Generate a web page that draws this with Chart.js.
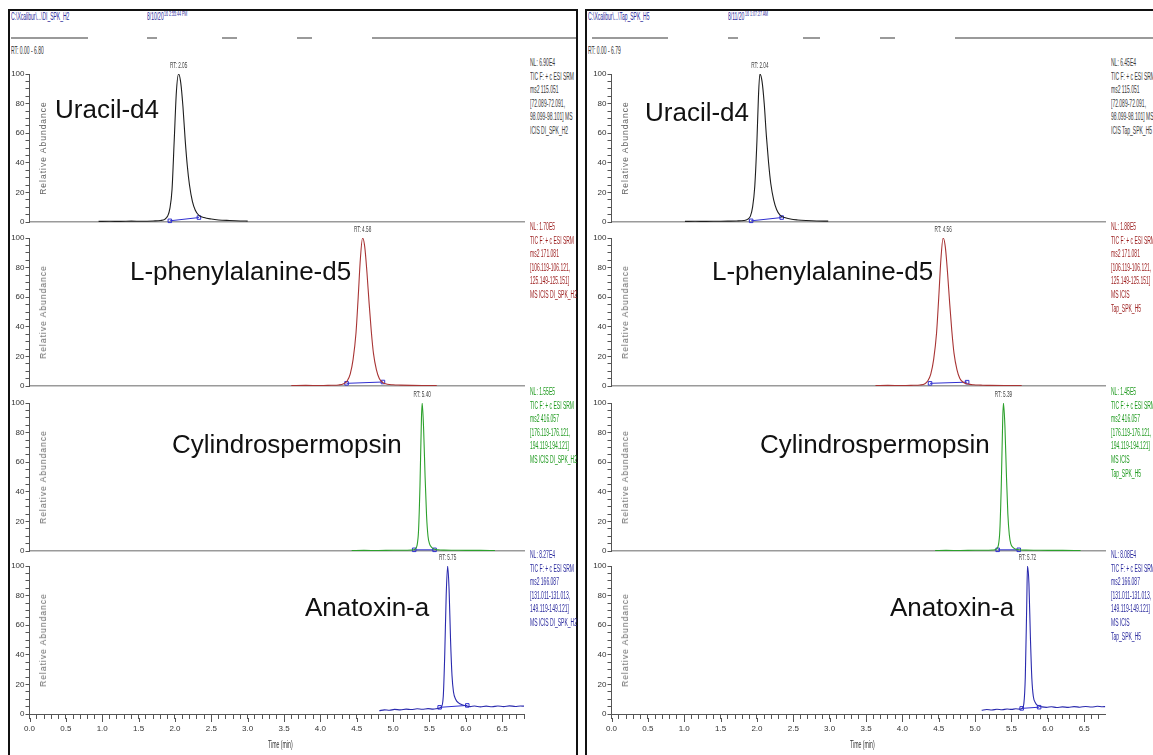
<!DOCTYPE html>
<html>
<head>
<meta charset="utf-8">
<script src="https://cdn.jsdelivr.net/npm/chart.js@4.4.0/dist/chart.umd.min.js"></script>
<style>
body{margin:0;width:1153px;height:755px;overflow:hidden;background:#fff;position:relative;font-family:'Liberation Sans',Arial,sans-serif;}
.t{position:absolute;white-space:nowrap;transform-origin:left top;line-height:1;}
.box{position:absolute;border:2.5px solid #111;box-sizing:border-box;}
.hl{position:absolute;height:1.5px;background:#9a9a9a;}
.cw{position:absolute;}
</style>
</head>
<body>
<script>
// time (min) and relative abundance (%)
// left panel (DI_SPK_H2)
var uracilL_t = [0.95,1.1,1.25,1.4,1.55,1.7,1.8,1.86,1.9,1.93,1.96,1.99,2.02,2.05,2.08,2.11,2.14,2.17,2.2,2.24,2.28,2.33,2.4,2.5,2.6,2.75,2.9,3.0];
var uracilL_y = [0.4,0.5,0.4,0.6,0.5,0.7,1.0,1.8,4,9,22,55,88,100,94,78,56,38,25,14,8,4.5,3,2,1.4,1,0.7,0.6];
var pheL_t = [3.6,3.8,4.0,4.15,4.25,4.32,4.37,4.41,4.45,4.49,4.52,4.55,4.58,4.61,4.64,4.67,4.7,4.73,4.77,4.81,4.86,4.92,5.0,5.1,5.25,5.4,5.6];
var pheL_y = [0.3,0.4,0.3,0.5,0.7,1.5,3.5,8,18,36,60,86,100,94,77,56,37,22,11,5,2.2,1.2,0.8,0.6,0.4,0.3,0.3];
var cylL_t = [4.43,4.6,4.8,5.0,5.15,5.25,5.3,5.33,5.35,5.37,5.39,5.4,5.42,5.44,5.46,5.48,5.5,5.53,5.57,5.62,5.7,5.85,6.0,6.2,6.4];
var cylL_y = [0.3,0.4,0.3,0.5,0.5,0.7,1.2,4,14,45,90,100,82,50,24,10,5,2.5,1.2,0.8,0.6,0.5,0.4,0.4,0.3];
var anaL_t = [4.81,4.88,4.95,5.02,5.1,5.18,5.25,5.33,5.4,5.48,5.55,5.62,5.66,5.69,5.71,5.73,5.75,5.77,5.79,5.81,5.83,5.86,5.9,5.95,6.0,6.06,6.12,6.2,6.28,6.36,6.44,6.52,6.6,6.68,6.75,6.8];
var anaL_y = [2.2,2.8,2.5,3.1,2.8,3.3,3.0,3.5,3.2,3.6,3.3,3.8,4.5,12,40,80,100,84,50,26,15,10,7.5,6.2,5.5,5.0,5.4,4.8,5.3,4.9,5.4,5.0,5.5,5.1,5.4,5.3];
// right panel (Tap_SPK_H5)
var uracilR_t = [1.01,1.15,1.3,1.45,1.6,1.72,1.82,1.87,1.91,1.94,1.97,2.0,2.02,2.04,2.07,2.1,2.13,2.16,2.19,2.23,2.27,2.32,2.38,2.46,2.56,2.68,2.82,2.98];
var uracilR_y = [0.4,0.5,0.4,0.5,0.6,0.7,1.0,1.8,4,10,24,55,84,100,95,80,58,40,26,15,8.5,4.5,3,2,1.4,1,0.7,0.6];
var pheR_t = [3.63,3.8,4.0,4.15,4.24,4.31,4.35,4.39,4.43,4.47,4.5,4.53,4.56,4.59,4.62,4.65,4.68,4.71,4.75,4.79,4.84,4.9,4.98,5.08,5.2,5.4,5.64];
var pheR_y = [0.3,0.4,0.3,0.5,0.7,1.5,3.5,8,18,36,60,86,100,94,77,56,37,22,11,5,2.4,1.3,0.8,0.6,0.4,0.3,0.3];
var cylR_t = [4.45,4.6,4.8,5.0,5.14,5.24,5.29,5.32,5.34,5.36,5.38,5.39,5.41,5.43,5.45,5.47,5.49,5.52,5.56,5.61,5.7,5.85,6.0,6.2,6.45];
var cylR_y = [0.3,0.4,0.3,0.5,0.5,0.7,1.2,4,14,45,90,100,84,52,25,11,5,2.5,1.2,0.8,0.6,0.5,0.4,0.4,0.3];
var anaR_t = [5.09,5.16,5.23,5.3,5.37,5.44,5.5,5.56,5.61,5.65,5.67,5.69,5.71,5.72,5.74,5.76,5.78,5.8,5.83,5.87,5.92,5.98,6.05,6.12,6.2,6.28,6.36,6.44,6.52,6.6,6.68,6.75,6.79];
var anaR_y = [2.5,3.0,2.7,3.2,2.9,3.4,3.1,3.5,3.3,4,7,25,75,100,88,52,24,12,7.5,5.5,4.8,4.5,4.9,4.4,4.8,4.5,5.0,4.6,5.1,4.7,5.2,4.9,5.0];

// integration baselines [t1, y1, t2, y2]
var baseL = [[1.93,0.8,2.33,3],[4.36,1.8,4.86,2.7],[5.29,0.8,5.57,0.8],[5.64,4.5,6.02,5.8]];
var baseR = [[1.92,0.8,2.34,3],[4.38,1.8,4.89,2.6],[5.31,0.8,5.6,0.8],[5.64,3.8,5.88,4.6]];

var compounds = ['Uracil-d4','L-phenylalanine-d5','Cylindrospermopsin','Anatoxin-a'];
var rtL = ['2.05','4.58','5.40','5.75'];
var rtR = ['2.04','4.56','5.39','5.72'];
var nlL = ['6.90E4','1.70E5','1.55E5','8.27E4'];
var nlR = ['6.45E4','1.88E5','1.45E5','8.08E4'];
var precursor = ['115.051','171.081','416.057','166.087'];
var products = [['72.089-72.091','98.099-98.101'],['106.119-106.121','125.149-125.151'],['176.119-176.121','194.119-194.121'],['131.011-131.013','149.119-149.121']];
var yTicks = [0,20,40,60,80,100];

// layout
var ROW_TOP = [74,238,403,566];
var ROW_ZERO = [222,386,551,714];
var PX_MIN = 73.46;
var traceColors = ['#1e1e1e','#a83434','#2ca02c','#2a2aae'];
var textColors = ['#3a3a3a','#9b1c1c','#1f9a1f','#2b2b9e'];
var tickFont = {family:"'Liberation Sans Narrow','Liberation Sans',Arial", size:8};

function txt(s, x, y, size, color, sx, extra) {
  var d = document.createElement('div');
  d.className = 't';
  d.textContent = s;
  d.style.left = x + 'px';
  d.style.top = y + 'px';
  d.style.fontSize = size + 'px';
  d.style.color = color;
  if (sx) d.style.transform = 'scaleX(' + sx + ')';
  if (extra) d.style.cssText += extra;
  document.body.appendChild(d);
  return d;
}
function hline(x1, x2, y) {
  var d = document.createElement('div');
  d.className = 'hl';
  d.style.left = x1 + 'px'; d.style.top = y + 'px'; d.style.width = (x2 - x1) + 'px';
  document.body.appendChild(d);
}

var rtPlugin = {
  id: 'rtLabel',
  afterDatasetsDraw: function(chart, args, o) {
    var c = chart.ctx;
    var x = chart.scales.x.getPixelForValue(parseFloat(o.rt));
    var y = chart.scales.y.getPixelForValue(100) - 4;
    c.save();
    c.translate(x, y);
    c.scale(0.52, 1);
    c.font = "9px 'Liberation Sans',Arial";
    c.fillStyle = '#444';
    c.textAlign = 'center';
    c.textBaseline = 'bottom';
    c.fillText('RT: ' + o.rt, 0, 0);
    c.restore();
  },
  // longer marks at the labelled half-minute ticks of the time axis
  afterDraw: function(chart, args, o) {
    if (!o.major) return;
    var xs = chart.scales.x, c = chart.ctx;
    c.save();
    c.strokeStyle = '#555';
    c.lineWidth = 1;
    c.beginPath();
    xs.ticks.forEach(function(tk, i) {
      var v = tk.value;
      if (Math.abs(v * 2 - Math.round(v * 2)) < 1e-6) {
        var px = Math.round(xs.getPixelForTick(i)) + 0.5;
        c.moveTo(px, xs.top + 4);
        c.lineTo(px, xs.top + 8);
      }
    });
    c.stroke();
    c.restore();
  }
};

function plot(p, r, t, y, base, rt) {
  var last = r === 3;
  var padTop = 16, padBot = last ? 0 : 6, xH = last ? 24 : 0;
  var right = p.axisX + p.xMax * PX_MIN;
  var w = document.createElement('div');
  w.className = 'cw';
  w.style.left = p.x0 + 'px';
  w.style.top = (ROW_TOP[r] - padTop) + 'px';
  w.style.width = (right - p.x0) + 'px';
  w.style.height = (ROW_ZERO[r] - ROW_TOP[r] + padTop + padBot + xH) + 'px';
  var cv = document.createElement('canvas');
  w.appendChild(cv);
  document.body.appendChild(w);

  new Chart(cv, {
    type: 'line',
    data: {datasets: [
      {data: t.map(function(v, i) { return {x: v, y: y[i]}; }),
       borderColor: traceColors[r], borderWidth: 1.1, pointRadius: 0,
       cubicInterpolationMode: 'monotone'},
      {data: [{x: base[0], y: base[1]}, {x: base[2], y: base[3]}],
       borderColor: '#2f2fd0', borderWidth: 1, pointStyle: 'rect', pointRadius: 2.5,
       pointBackgroundColor: 'rgba(255,255,255,0)', pointBorderColor: '#2f2fd0',
       pointBorderWidth: 1, clip: 5}
    ]},
    options: {
      responsive: true, maintainAspectRatio: false, animation: false,
      layout: {padding: {top: padTop, bottom: padBot, left: 0, right: 0}},
      plugins: {legend: {display: false}, tooltip: {enabled: false}, rtLabel: {rt: rt, major: last}},
      scales: {
        x: {
          type: 'linear', min: 0, max: p.xMax,
          afterFit: function(s) { s.height = xH; },
          border: {color: last ? '#555' : '#9a9a9a', width: last ? 1 : 1.5},
          grid: {display: last, drawOnChartArea: false, tickLength: 5, color: '#555'},
          ticks: {
            display: last, stepSize: 0.1, autoSkip: false, maxRotation: 0, includeBounds: false,
            padding: 5, color: '#333', font: tickFont,
            callback: function(v) { return Math.abs(v * 2 - Math.round(v * 2)) < 1e-6 ? v.toFixed(1) : ''; }
          }
        },
        y: {
          min: 0, max: 100,
          afterFit: function(s) { s.width = p.axisX - p.x0; },
          border: {color: '#555', width: 1},
          grid: {drawOnChartArea: false, tickLength: 4, color: '#555'},
          ticks: {
            stepSize: 5, autoSkip: false, padding: 1, color: '#333', font: tickFont,
            callback: function(v) { return yTicks.indexOf(v) >= 0 ? v : ''; }
          }
        }
      }
    },
    plugins: [rtPlugin]
  });
}

var panels = [
  {x0: 8, axisX: 29.5, xMax: 6.80, box: 8, file: 'C:\\Xcalibur\\...\\DI_SPK_H2', date: '8/10/20', time: '16 2:55:44 PM',
   dateX: 147, range: 'RT: 0.00 - 6.80', sample: ['MS ICIS DI_SPK_H2'],
   lines: [[11,88],[147,157],[222,237],[297,312],[372,576]],
   names: [[55,110],[130,272],[172,445],[305,608]],
   traces: [[uracilL_t,uracilL_y],[pheL_t,pheL_y],[cylL_t,cylL_y],[anaL_t,anaL_y]], base: baseL, rt: rtL, nl: nlL},
  {x0: 588, axisX: 611.5, xMax: 6.79, box: 585, file: 'C:\\Xcalibur\\...\\Tap_SPK_H5', date: '8/11/20', time: '16 1:07:27 AM',
   dateX: 728, range: 'RT: 0.00 - 6.79', sample: ['MS ICIS', 'Tap_SPK_H5'],
   lines: [[592,668],[728,738],[803,820],[880,895],[955,1153]],
   names: [[645,113],[712,272],[760,445],[890,608]],
   traces: [[uracilR_t,uracilR_y],[pheR_t,pheR_y],[cylR_t,cylR_y],[anaR_t,anaR_y]], base: baseR, rt: rtR, nl: nlR}
];

panels.forEach(function(p, pi) {
  var b = document.createElement('div');
  b.className = 'box';
  b.style.left = p.box + 'px'; b.style.top = '9px';
  b.style.width = (pi === 0 ? 570 : 620) + 'px'; b.style.height = '770px';
  document.body.appendChild(b);

  txt(p.file, p.box + 3, 12, 10, '#2a2a9a', 0.5);
  txt(p.date, p.dateX, 12, 10, '#2a2a9a', 0.5);
  txt(p.time, p.dateX + 17, 11, 6.5, '#2a2a9a', 0.55);
  p.lines.forEach(function(l) { hline(l[0], l[1], 37); });
  txt(p.range, p.box + 3, 46, 10, '#333', 0.5);

  var right = p.axisX + p.xMax * PX_MIN;
  for (var r = 0; r < 4; r++) {
    plot(p, r, p.traces[r][0], p.traces[r][1], p.base[r], p.rt[r]);
    txt('Relative Abundance', p.axisX + 9, (ROW_TOP[r] + ROW_ZERO[r]) / 2, 8.5, '#666', 0,
        'letter-spacing:1px;transform-origin:left top;transform:rotate(-90deg) translate(-50%,0);');
    txt(compounds[r], p.names[r][0], p.names[r][1] - 14, 26, '#111', 0);
    var ann = ['NL: ' + p.nl[r], 'TIC F: + c ESI SRM', 'ms2 ' + precursor[r]];
    if (r === 0) {
      ann.push('[' + products[r][0] + ',', products[r][1] + '] MS', 'ICIS ' + (pi === 0 ? 'DI_SPK_H2' : 'Tap_SPK_H5'));
    } else {
      ann.push('[' + products[r][0] + ',', products[r][1] + ']');
      ann = ann.concat(p.sample);
    }
    ann.forEach(function(s, k) {
      txt(s, right + 1, ROW_TOP[r] - 16 + k * 13.6, 10, textColors[r], 0.5);
    });
  }
  txt('Time (min)', p.axisX + 238, 740, 10, '#333', 0.52);
});
</script>
</body>
</html>
